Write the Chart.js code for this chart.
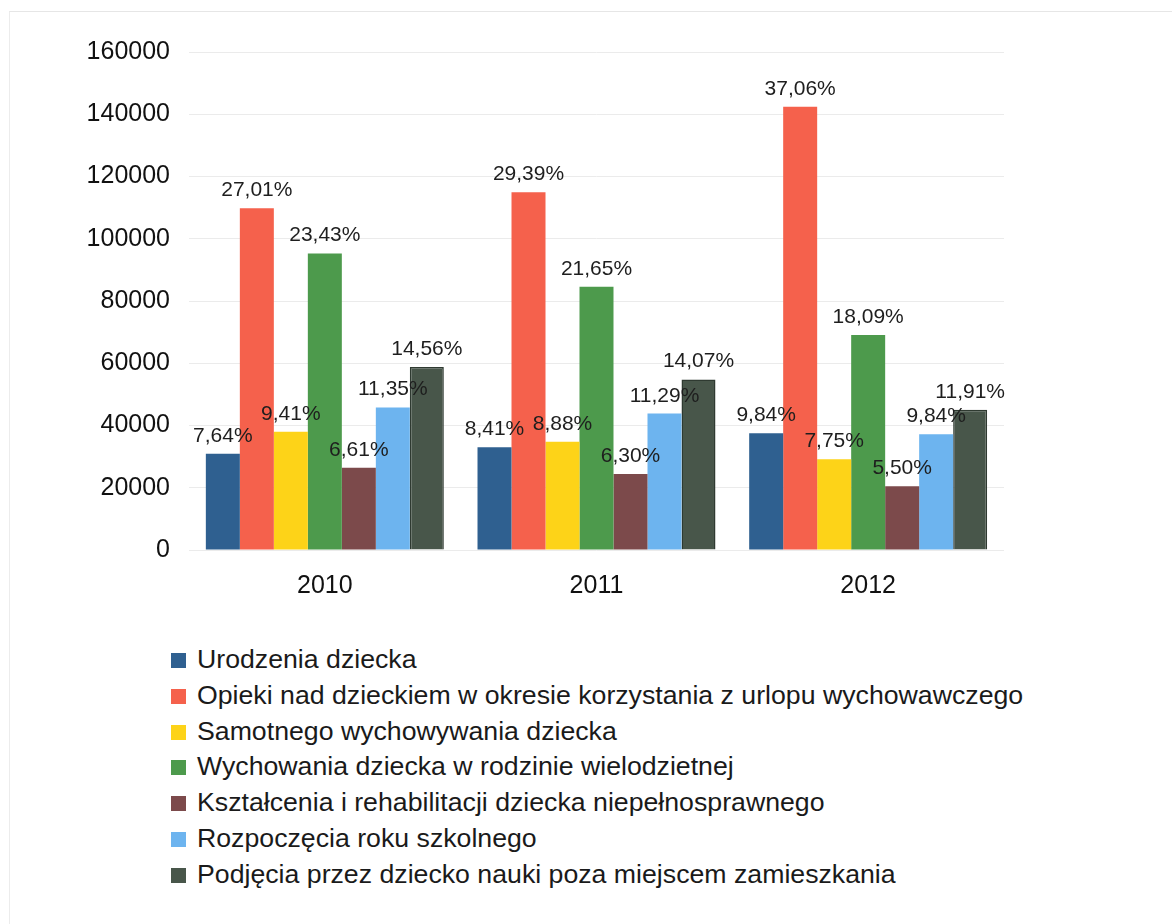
<!DOCTYPE html>
<html lang="pl">
<head>
<meta charset="utf-8">
<script src="https://cdn.jsdelivr.net/npm/chart.js@4.4.1/dist/chart.umd.min.js"></script>
<style>
  html, body { margin: 0; padding: 0; background: #ffffff; }
  body { width: 1172px; height: 924px; position: relative; overflow: hidden;
         font-family: "Liberation Sans", Arial, sans-serif; }
  #frame { position: absolute; left: 9px; top: 11px; width: 1200px; height: 1000px;
           border-left: 1px solid #ececec; border-top: 1px solid #e6e6e6; }
  #wrap { position: absolute; left: 0; top: 0; width: 1172px; height: 620px; }
  #legend { position: absolute; left: 171px; top: 642px; margin: 0; padding: 0; list-style: none; }
  #legend li { height: 35.8px; line-height: 35.8px; font-size: 26.7px; color: #1a1a1a;
               white-space: nowrap; position: relative; padding-left: 26px; }
  #legend li span.box { position: absolute; left: 0; top: 11px; width: 15px; height: 15px; }
</style>
</head>
<body>
<div id="frame"></div>
<div id="wrap"><canvas id="c" width="1172" height="620"></canvas></div>
<ul id="legend"></ul>
<script>
const categories = ['2010', '2011', '2012'];

const seriesNames = [
  'Urodzenia dziecka',
  'Opieki nad dzieckiem w okresie korzystania z urlopu wychowawczego',
  'Samotnego wychowywania dziecka',
  'Wychowania dziecka w rodzinie wielodzietnej',
  'Kształcenia i rehabilitacji dziecka niepełnosprawnego',
  'Rozpoczęcia roku szkolnego',
  'Podjęcia przez dziecko nauki poza miejscem zamieszkania'
];

const urodzenia   = [30960, 33000, 37530];
const opieki      = [109800, 114970, 142370];
const samotnego   = [38030, 34790, 29190];
const wychowania  = [95300, 84590, 69100];
const ksztalcenia = [26440, 24420, 20490];
const rozpoczecia = [45800, 43840, 37170];
const podjecia    = [58780, 54800, 45030];

const pctUrodzenia   = ['7,64%', '8,41%', '9,84%'];
const pctOpieki      = ['27,01%', '29,39%', '37,06%'];
const pctSamotnego   = ['9,41%', '8,88%', '7,75%'];
const pctWychowania  = ['23,43%', '21,65%', '18,09%'];
const pctKsztalcenia = ['6,61%', '6,30%', '5,50%'];
const pctRozpoczecia = ['11,35%', '11,29%', '9,84%'];
const pctPodjecia    = ['14,56%', '14,07%', '11,91%'];

const yTicks = [0, 20000, 40000, 60000, 80000, 100000, 120000, 140000, 160000];

const colors = ['#2f6090', '#f5614c', '#fdd318', '#4d9a4c', '#7c4a4b', '#6db4ef', '#48564a'];
const borders = ['#2f6090', '#f5614c', '#fdd318', '#4d9a4c', '#7c4a4b', '#6db4ef', '#2f3a31'];

const values = [urodzenia, opieki, samotnego, wychowania, ksztalcenia, rozpoczecia, podjecia];
const pcts = [pctUrodzenia, pctOpieki, pctSamotnego, pctWychowania, pctKsztalcenia, pctRozpoczecia, pctPodjecia];

const datasets = seriesNames.map((name, i) => ({
  label: name,
  data: values[i],
  backgroundColor: colors[i],
  borderColor: borders[i],
  borderWidth: i === 6 ? 1.5 : 0,
  pctLabels: pcts[i],
  categoryPercentage: 0.876,
  barPercentage: 1.0
}));

const pctLabelPlugin = {
  id: 'pctLabels',
  afterDatasetsDraw(chart) {
    const ctx = chart.ctx;
    ctx.save();
    ctx.font = '21px "Liberation Sans", Arial, sans-serif';
    ctx.fillStyle = '#1e1e1e';
    ctx.textAlign = 'center';
    ctx.textBaseline = 'alphabetic';
    chart.data.datasets.forEach((ds, di) => {
      const meta = chart.getDatasetMeta(di);
      meta.data.forEach((el, j) => {
        ctx.fillText(ds.pctLabels[j], el.x, el.y - 12);
      });
    });
    ctx.restore();
  }
};

const chart = new Chart(document.getElementById('c'), {
  type: 'bar',
  data: { labels: categories, datasets: datasets },
  options: {
    responsive: false,
    animation: false,
    devicePixelRatio: 1,
    layout: { padding: { left: 0, right: 168, top: 52, bottom: 10 } },
    plugins: {
      legend: { display: false },
      tooltip: { enabled: false }
    },
    scales: {
      x: {
        grid: { display: false, drawTicks: false },
        border: { display: false },
        ticks: {
          color: '#111',
          padding: 21,
          font: { family: '"Liberation Sans", Arial, sans-serif', size: 25 }
        },
        afterFit(s) { s.height = 60; }
      },
      y: {
        min: 0,
        max: 160000,
        afterBuildTicks(s) { s.ticks = yTicks.map(v => ({ value: v })); },
        grid: { color: '#ebebeb', lineWidth: 1, drawTicks: false },
        border: { display: false },
        ticks: {
          color: '#111',
          padding: 19,
          font: { family: '"Liberation Sans", Arial, sans-serif', size: 25 },
          callback: (v) => String(v)
        },
        afterFit(s) { s.width = 189; }
      }
    }
  },
  plugins: [pctLabelPlugin]
});

// Legend built from the chart's datasets
const ul = document.getElementById('legend');
chart.data.datasets.forEach(ds => {
  const li = document.createElement('li');
  const box = document.createElement('span');
  box.className = 'box';
  box.style.background = ds.backgroundColor;
  li.appendChild(box);
  li.appendChild(document.createTextNode(ds.label));
  ul.appendChild(li);
});
</script>
</body>
</html>
